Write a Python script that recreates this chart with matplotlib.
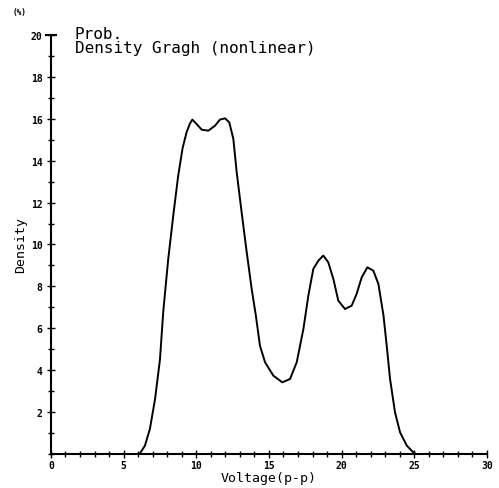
"""
Prob. Density Gragh 재현
"""
import numpy as np
import matplotlib.pyplot as plt
from matplotlib.ticker import MultipleLocator

# 곡선 데이터
voltage = [6.1, 6.47, 6.81, 7.16, 7.5, 7.73, 8.07, 8.42, 8.76, 9.06, 9.33, 9.55,
           9.73, 10.02, 10.37, 10.83, 11.29, 11.63, 11.98, 12.27, 12.55, 12.78,
           13.12, 13.47, 13.81, 14.1, 14.38, 14.73, 15.3, 15.92, 16.45, 16.91,
           17.37, 17.71, 18.05, 18.4, 18.74, 19.08, 19.43, 19.77, 20.23, 20.69,
           21.03, 21.38, 21.77, 22.18, 22.53, 22.88, 23.1, 23.33, 23.67, 24.02,
           24.48, 24.93, 25.1]
density = [0.0, 0.4, 1.2, 2.6, 4.5, 6.8, 9.3, 11.4, 13.3, 14.6, 15.35, 15.75,
           15.96, 15.75, 15.48, 15.43, 15.67, 15.96, 16.02, 15.83, 15.04, 13.45,
           11.54, 9.63, 7.88, 6.6, 5.17, 4.38, 3.74, 3.42, 3.58, 4.38,
           5.97, 7.56, 8.83, 9.23, 9.47, 9.15, 8.35, 7.32, 6.92, 7.08,
           7.64, 8.43, 8.91, 8.75, 8.11, 6.6, 5.17, 3.58, 1.99, 1.03,
           0.4, 0.08, 0.0]

x_labels = [0, 5, 10, 15, 20, 25, 30]
y_labels = [2, 4, 6, 8, 10, 12, 14, 16, 18, 20]

mono = 'DejaVu Sans Mono'

fig = plt.figure(figsize=(4.99, 4.89), dpi=100)
ax = fig.add_axes([0.102, 0.0695, 0.874, 0.857])

ax.plot(voltage, density, color='black', linewidth=1.4,
        solid_joinstyle='round', solid_capstyle='round')

ax.set_xlim(0, 30)
ax.set_ylim(0, 20)

# 축 스타일: 왼쪽/아래만
for side in ['top', 'right']:
    ax.spines[side].set_visible(False)
for side in ['left', 'bottom']:
    ax.spines[side].set_linewidth(1.5)
    ax.spines[side].set_color('black')

ax.xaxis.set_major_locator(MultipleLocator(5))
ax.xaxis.set_minor_locator(MultipleLocator(1))
ax.yaxis.set_major_locator(MultipleLocator(2))
ax.yaxis.set_minor_locator(MultipleLocator(1))
ax.tick_params(which='both', direction='inout', width=1, color='black')
ax.tick_params(which='major', length=6)
ax.tick_params(which='minor', length=5)
ax.tick_params(axis='x', pad=1)
ax.tick_params(axis='y', pad=3)

ax.set_xticks(x_labels)
ax.set_xticklabels([str(v) for v in x_labels], fontsize=7, fontweight='bold', family=mono)
ax.set_yticks(y_labels)
ax.set_yticklabels([str(v) for v in y_labels], fontsize=7, fontweight='bold', family=mono)

# y축 위쪽 T 모양
ax.plot([0], [20], marker='_', markersize=8, markeredgewidth=1.5, color='black', clip_on=False)

ax.set_xlabel('Voltage(p-p)', fontsize=9.5, family=mono, labelpad=1)
ax.set_ylabel('Density', fontsize=9.5, family=mono, labelpad=3)

fig.text(0.04, 0.975, '(%)', fontsize=5.5, fontweight='bold', family=mono, ha='center', va='center')
fig.text(0.15, 0.945, 'Prob.\nDensity Gragh (nonlinear)', fontsize=11.5, family=mono,
         ha='left', va='top', linespacing=0.95)

plt.savefig('out.png', dpi=100)
